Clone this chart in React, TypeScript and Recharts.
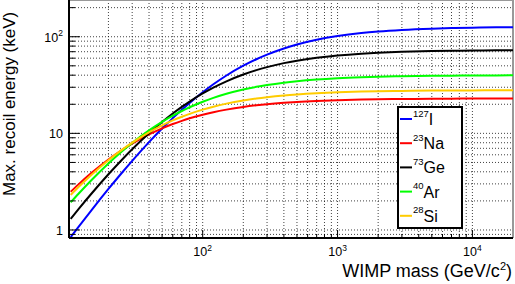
import { LineChart, Line, XAxis, YAxis, CartesianGrid, Legend, ReferenceLine } from 'recharts';

const FONT = '"Liberation Sans", Arial, Helvetica, sans-serif';

const MASS = [10.5, 12, 15, 20, 25, 30, 40, 50, 60, 70, 80, 100, 120, 150, 200, 250, 300, 400, 500, 700, 1000, 1500, 2000, 3000, 5000, 7000, 10000, 15000, 20000];

// max. recoil energy (keV) per target nucleus
const E_I  = [0.844, 1.077, 1.608, 2.656, 3.865, 5.197, 8.109, 11.21, 14.38, 17.55, 20.67, 26.65, 32.2, 39.7, 50.14, 58.52, 65.32, 75.64, 83.05, 92.93, 101.55, 109.11, 113.21, 117.55, 121.2, 122.81, 124.05, 125.02, 125.51];
const E_NA = [2.489, 2.965, 3.901, 5.362, 6.671, 7.829, 9.755, 11.27, 12.49, 13.48, 14.31, 15.6, 16.56, 17.61, 18.77, 19.51, 20.04, 20.72, 21.15, 21.65, 22.05, 22.36, 22.51, 22.67, 22.8, 22.86, 22.9, 22.93, 22.95];
const E_GE = [1.306, 1.643, 2.384, 3.771, 5.275, 6.841, 10.01, 13.11, 16.04, 18.78, 21.33, 25.86, 29.74, 34.56, 40.66, 45.12, 48.51, 53.33, 56.57, 60.65, 64.0, 66.81, 68.28, 69.8, 71.05, 71.6, 72.02, 72.34, 72.51];
const E_AR = [1.933, 2.374, 3.295, 4.88, 6.449, 7.958, 10.72, 13.13, 15.22, 17.04, 18.62, 21.23, 23.29, 25.67, 28.42, 30.3, 31.65, 33.47, 34.64, 36.06, 37.18, 38.08, 38.55, 39.02, 39.41, 39.58, 39.7, 39.8, 39.85];
const E_SI = [2.307, 2.781, 3.733, 5.275, 6.707, 8.013, 10.26, 12.09, 13.6, 14.86, 15.92, 17.61, 18.89, 20.32, 21.91, 22.96, 23.7, 24.68, 25.29, 26.02, 26.59, 27.05, 27.28, 27.52, 27.71, 27.79, 27.85, 27.9, 27.93];

const ISOTOPES = [
  { key: 'I',  a: '127', sym: 'I',  color: '#0000ff', values: E_I },
  { key: 'Na', a: '23',  sym: 'Na', color: '#ff0000', values: E_NA },
  { key: 'Ge', a: '73',  sym: 'Ge', color: '#000000', values: E_GE },
  { key: 'Ar', a: '40',  sym: 'Ar', color: '#00ff00', values: E_AR },
  { key: 'Si', a: '28',  sym: 'Si', color: '#ffcc00', values: E_SI },
];

const X_TICKS = [20, 30, 40, 50, 60, 70, 80, 90, 100, 200, 300, 400, 500, 600, 700, 800, 900, 1000, 2000, 3000, 4000, 5000, 6000, 7000, 8000, 9000, 10000];
const Y_TICKS = [0.9, 1, 2, 3, 4, 5, 6, 7, 8, 9, 10, 20, 30, 40, 50, 60, 70, 80, 90, 100, 200];

const data = MASS.map((mass, i) => {
  const row: Record<string, number> = { mass };
  ISOTOPES.forEach((s) => { row[s.key] = s.values[i]; });
  return row;
});

function decade(v: number) {
  const lg = Math.log10(v);
  const e = Math.round(lg);
  return { e, major: Math.abs(lg - e) < 1e-6 };
}

function XTick({ x, y, payload }: any) {
  const { e, major } = decade(payload.value);
  return (
    <g>
      <line x1={x} x2={x} y1={y} y2={y - (major ? 8 : 4)} stroke="#000" />
      {major && (
        <text x={x} y={y + 18} textAnchor="middle" fontSize={12.5} fontFamily={FONT} fill="#000">
          10<tspan fontSize={8.5} dy={-5}>{e}</tspan>
        </text>
      )}
    </g>
  );
}

function YTick({ x, y, payload }: any) {
  const { e, major } = decade(payload.value);
  let label = null;
  if (major && e === 0) label = <>1</>;
  else if (major && e === 1) label = <>10</>;
  else if (major) label = <>10<tspan fontSize={8.5} dy={-5.5}>{e}</tspan></>;
  return (
    <g>
      <line x1={x} x2={x + (major ? 11 : 6)} y1={y} y2={y} stroke="#000" />
      {label && (
        <text x={x - 6} y={y + 5} textAnchor="end" fontSize={12.5} fontFamily={FONT} fill="#000">
          {label}
        </text>
      )}
    </g>
  );
}

function XTitle({ viewBox }: any) {
  return (
    <text x={viewBox.x + viewBox.width - 1} y={viewBox.y + 39} textAnchor="end" fontSize={18} fontFamily={FONT} fill="#000">
      WIMP mass (GeV/c<tspan fontSize={11} dy={-7}>2</tspan><tspan dy={7}>)</tspan>
    </text>
  );
}

function YTitle({ viewBox }: any) {
  const x = viewBox.x + 15;
  const y = viewBox.y + 196;
  return (
    <text x={x} y={y} transform={`rotate(-90, ${x}, ${y})`} textAnchor="start" fontSize={17} fontFamily={FONT} fill="#000">
      Max. recoil energy (keV)
    </text>
  );
}

function LegendBox() {
  return (
    <svg width={66} height={123} style={{ display: 'block' }}>
      <rect x={1} y={1} width={64} height={121} fill="#fff" stroke="#000" strokeWidth={2} />
      {ISOTOPES.map((s, i) => {
        const yc = 13 + 24.2 * i;
        return (
          <g key={s.key}>
            <line x1={3} x2={15} y1={yc} y2={yc} stroke={s.color} strokeWidth={2} />
            <text x={16} y={yc + 6} fontSize={16} fontFamily={FONT} fill="#000">
              <tspan fontSize={9.5} dy={-8.5}>{s.a}</tspan>
              <tspan dy={8.5}>{s.sym}</tspan>
            </text>
          </g>
        );
      })}
    </svg>
  );
}

export default function App() {
  return (
    <div style={{ position: 'absolute', left: 0, top: 0, background: '#fff' }}>
      <LineChart width={515} height={284} data={data} margin={{ top: 0, right: 2, bottom: 0, left: 0 }}>
        <CartesianGrid stroke="#000" strokeOpacity={0.75} strokeDasharray="1 2" />
        <XAxis
          dataKey="mass"
          type="number"
          scale="log"
          domain={[10.2, 20000]}
          allowDataOverflow
          ticks={X_TICKS}
          interval={0}
          height={46}
          tickSize={0}
          tickMargin={0}
          tickLine={false}
          axisLine={{ stroke: '#000', strokeWidth: 2 }}
          tick={<XTick />}
          label={<XTitle />}
        />
        <YAxis
          type="number"
          scale="log"
          domain={[0.826, 240]}
          allowDataOverflow
          ticks={Y_TICKS}
          interval={0}
          width={69}
          tickSize={0}
          tickMargin={0}
          tickLine={false}
          axisLine={{ stroke: '#000', strokeWidth: 2 }}
          tick={<YTick />}
          label={<YTitle />}
        />
        <ReferenceLine y={240} stroke="#999" strokeWidth={2} ifOverflow="visible" />
        <ReferenceLine x={20000} stroke="#999" strokeWidth={2} ifOverflow="visible" />
        {ISOTOPES.map((s) => (
          <Line
            key={s.key}
            type="monotone"
            dataKey={s.key}
            stroke={s.color}
            strokeWidth={2}
            dot={false}
            activeDot={false}
            isAnimationActive={false}
          />
        ))}
        <Legend
          layout="vertical"
          align="center"
          verticalAlign="middle"
          wrapperStyle={{ left: 397, top: 106, width: 66, height: 123 }}
          content={() => <LegendBox />}
        />
      </LineChart>
    </div>
  );
}
